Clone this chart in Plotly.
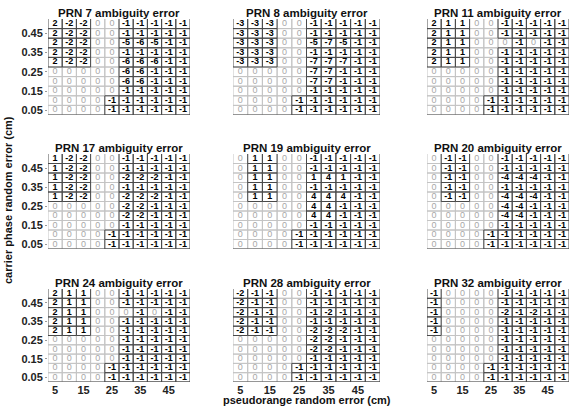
import plotly.graph_objects as go

# pseudorange random error (cm) columns, carrier phase random error rows (top -> bottom)
pr_err = [5, 10, 15, 20, 25, 30, 35, 40, 45, 50]
cp_err = [0.50, 0.45, 0.40, 0.35, 0.30, 0.25, 0.20, 0.15, 0.10, 0.05]
x_ticks = [5, 15, 25, 35, 45]
y_ticks = [0.05, 0.15, 0.25, 0.35, 0.45]

prn_names = ["PRN 7", "PRN 8", "PRN 11", "PRN 17", "PRN 19", "PRN 20", "PRN 24", "PRN 28", "PRN 32"]

prn7 = [
    [2, -2, -2, 0, 0, -1, -1, -1, -1, -1],
    [2, -2, -2, 0, 0, -1, -1, -1, -1, -1],
    [2, -2, -2, 0, 0, -5, -6, -5, -1, -1],
    [2, -2, -2, 0, 0, -1, -1, -1, -1, -1],
    [2, -2, -2, 0, 0, -6, -6, -6, -1, -1],
    [0, 0, 0, 0, 0, -6, -6, -1, -1, -1],
    [0, 0, 0, 0, 0, -6, -6, -1, -1, -1],
    [0, 0, 0, 0, 0, -1, -1, -1, -1, -1],
    [0, 0, 0, 0, -1, -1, -1, -1, -1, -1],
    [0, 0, 0, 0, -1, -1, -1, -1, -1, -1],
]
prn8 = [
    [-3, -3, -3, 0, 0, -1, -1, -1, -1, -1],
    [-3, -3, -3, 0, 0, -1, -1, -1, -1, -1],
    [-3, -3, -3, 0, 0, -5, -7, -5, -1, -1],
    [-3, -3, -3, 0, 0, -1, -1, -1, -1, -1],
    [-3, -3, -3, 0, 0, -7, -7, -7, -1, -1],
    [0, 0, 0, 0, 0, -7, -7, -1, -1, -1],
    [0, 0, 0, 0, 0, -7, -7, -1, -1, -1],
    [0, 0, 0, 0, 0, -1, -1, -1, -1, -1],
    [0, 0, 0, 0, -1, -1, -1, -1, -1, -1],
    [0, 0, 0, 0, -1, -1, -1, -1, -1, -1],
]
prn11 = [
    [2, 1, 1, 0, 0, -1, -1, -1, -1, -1],
    [2, 1, 1, 0, 0, -1, -1, -1, -1, -1],
    [2, 1, 1, 0, 0, 0, -1, 0, -1, -1],
    [2, 1, 1, 0, 0, -1, -1, -1, -1, -1],
    [2, 1, 1, 0, 0, -1, -1, -1, -1, -1],
    [0, 0, 0, 0, 0, -1, -1, -1, -1, -1],
    [0, 0, 0, 0, 0, -1, -1, -1, -1, -1],
    [0, 0, 0, 0, 0, -1, -1, -1, -1, -1],
    [0, 0, 0, 0, -1, -1, -1, -1, -1, -1],
    [0, 0, 0, 0, -1, -1, -1, -1, -1, -1],
]
prn17 = [
    [1, -2, -2, 0, 0, -1, -1, -1, -1, -1],
    [1, -2, -2, 0, 0, -1, -1, -1, -1, -1],
    [1, -2, -2, 0, 0, -2, -2, -2, -1, -1],
    [1, -2, -2, 0, 0, -1, -1, -1, -1, -1],
    [1, -2, -2, 0, 0, -2, -2, -2, -1, -1],
    [0, 0, 0, 0, 0, -2, -2, -1, -1, -1],
    [0, 0, 0, 0, 0, -2, -2, -1, -1, -1],
    [0, 0, 0, 0, 0, -1, -1, -1, -1, -1],
    [0, 0, 0, 0, -1, -1, -1, -1, -1, -1],
    [0, 0, 0, 0, -1, -1, -1, -1, -1, -1],
]
prn19 = [
    [0, 1, 1, 0, 0, -1, -1, -1, -1, -1],
    [0, 1, 1, 0, 0, -1, -1, -1, -1, -1],
    [0, 1, 1, 0, 0, 1, 4, 1, -1, -1],
    [0, 1, 1, 0, 0, -1, -1, -1, -1, -1],
    [0, 1, 1, 0, 0, 4, 4, 4, -1, -1],
    [0, 0, 0, 0, 0, 4, 4, -1, -1, -1],
    [0, 0, 0, 0, 0, 4, 4, -1, -1, -1],
    [0, 0, 0, 0, 0, -1, -1, -1, -1, -1],
    [0, 0, 0, 0, -1, -1, -1, -1, -1, -1],
    [0, 0, 0, 0, -1, -1, -1, -1, -1, -1],
]
prn20 = [
    [0, -1, -1, 0, 0, -1, -1, -1, -1, -1],
    [0, -1, -1, 0, 0, -1, -1, -1, -1, -1],
    [0, -1, -1, 0, 0, -4, -4, -4, -1, -1],
    [0, -1, -1, 0, 0, -1, -1, -1, -1, -1],
    [0, -1, -1, 0, 0, -4, -4, -4, -1, -1],
    [0, 0, 0, 0, 0, -4, -4, -1, -1, -1],
    [0, 0, 0, 0, 0, -4, -4, -1, -1, -1],
    [0, 0, 0, 0, 0, -1, -1, -1, -1, -1],
    [0, 0, 0, 0, -1, -1, -1, -1, -1, -1],
    [0, 0, 0, 0, -1, -1, -1, -1, -1, -1],
]
prn24 = [
    [2, 1, 1, 0, 0, -1, -1, -1, -1, -1],
    [2, 1, 1, 0, 0, -1, -1, -1, -1, -1],
    [2, 1, 1, 0, 0, 0, -1, 0, -1, -1],
    [2, 1, 1, 0, 0, -1, -1, -1, -1, -1],
    [2, 1, 1, 0, 0, -1, -1, -1, -1, -1],
    [0, 0, 0, 0, 0, -1, -1, -1, -1, -1],
    [0, 0, 0, 0, 0, -1, -1, -1, -1, -1],
    [0, 0, 0, 0, 0, -1, -1, -1, -1, -1],
    [0, 0, 0, 0, -1, -1, -1, -1, -1, -1],
    [0, 0, 0, 0, -1, -1, -1, -1, -1, -1],
]
prn28 = [
    [-2, -1, -1, 0, 0, -1, -1, -1, -1, -1],
    [-2, -1, -1, 0, 0, -1, -1, -1, -1, -1],
    [-2, -1, -1, 0, 0, -1, -2, -1, -1, -1],
    [-2, -1, -1, 0, 0, -1, -1, -1, -1, -1],
    [-2, -1, -1, 0, 0, -2, -2, -2, -1, -1],
    [0, 0, 0, 0, 0, -2, -2, -1, -1, -1],
    [0, 0, 0, 0, 0, -2, -2, -1, -1, -1],
    [0, 0, 0, 0, 0, -1, -1, -1, -1, -1],
    [0, 0, 0, 0, -1, -1, -1, -1, -1, -1],
    [0, 0, 0, 0, -1, -1, -1, -1, -1, -1],
]
prn32 = [
    [-1, 0, 0, 0, 0, -1, -1, -1, -1, -1],
    [-1, 0, 0, 0, 0, -1, -1, -1, -1, -1],
    [-1, 0, 0, 0, 0, -2, -1, -2, -1, -1],
    [-1, 0, 0, 0, 0, -1, -1, -1, -1, -1],
    [-1, 0, 0, 0, 0, -1, -1, -1, -1, -1],
    [0, 0, 0, 0, 0, -1, -1, -1, -1, -1],
    [0, 0, 0, 0, 0, -1, -1, -1, -1, -1],
    [0, 0, 0, 0, 0, -1, -1, -1, -1, -1],
    [0, 0, 0, 0, -1, -1, -1, -1, -1, -1],
    [0, 0, 0, 0, -1, -1, -1, -1, -1, -1],
]
grids = [prn7, prn8, prn11, prn17, prn19, prn20, prn24, prn28, prn32]

W, H = 571, 407
col_px = [(48, 190), (233, 380), (427, 569)]
row_px = [(19, 115), (154, 249), (289, 382)]

FONT = "Liberation Sans, Arial, sans-serif"
dx = 2.5
dy = 0.025

fig = go.Figure()
layout = dict(
    width=W, height=H, margin=dict(l=0, r=0, t=0, b=0),
    paper_bgcolor="white", plot_bgcolor="white", showlegend=False,
    font=dict(family=FONT, color="black"),
)
annotations = []

for k, (name, grid) in enumerate(zip(prn_names, grids)):
    r, c = divmod(k, 3)
    ax = "" if k == 0 else str(k + 1)
    xa, ya = "x" + ax, "y" + ax
    x0p, x1p = col_px[c]
    y0p, y1p = row_px[r]
    layout["xaxis" + ax] = dict(
        domain=[x0p / W, x1p / W], range=[pr_err[0] - dx, pr_err[-1] + dx],
        tickvals=x_ticks, showticklabels=(r == 2), ticks="", showgrid=False,
        zeroline=False, showline=False, fixedrange=True, anchor=ya,
        tickfont=dict(size=11, family=FONT, color="#222", weight="bold"),
    )
    layout["yaxis" + ax] = dict(
        domain=[1 - y1p / H, 1 - y0p / H], range=[cp_err[-1] - dy, cp_err[0] + dy],
        tickvals=y_ticks, ticktext=["%.2f" % v for v in y_ticks],
        showticklabels=(c == 0), ticks="outside" if c == 0 else "", ticklen=2,
        tickcolor="#999", showgrid=False, zeroline=False, showline=False,
        fixedrange=True, anchor=xa,
        tickfont=dict(size=11, family=FONT, color="#222", weight="bold"),
    )

    # cell borders: light for zero cells, dark for nonzero cells
    for want_zero, color in ((True, "#c4c4c4"), (False, "#4a4a4a")):
        lx, ly = [], []
        for i, yv in enumerate(cp_err):
            for j, xv in enumerate(pr_err):
                v = grid[i][j]
                if (v == 0) != want_zero:
                    continue
                lx += [xv - dx, xv - dx, None, xv + dx, xv + dx, None,
                       xv - dx, xv + dx, None]
                ly += [yv - dy, yv + dy, None, yv - dy, yv + dy, None,
                       yv - dy, yv - dy, None]
                if i > 0:
                    lx += [xv - dx, xv + dx, None]
                    ly += [yv + dy, yv + dy, None]
        fig.add_trace(go.Scatter(x=lx, y=ly, mode="lines", xaxis=xa, yaxis=ya,
                                 line=dict(color=color, width=1), hoverinfo="skip"))

    # bottom border of the table
    fig.add_trace(go.Scatter(x=[pr_err[0] - dx, pr_err[-1] + dx],
                             y=[cp_err[-1] - dy, cp_err[-1] - dy], mode="lines",
                             xaxis=xa, yaxis=ya, line=dict(color="#4a4a4a", width=1),
                             hoverinfo="skip"))

    zx, zy, zt, nx, ny, nt = [], [], [], [], [], []
    for i, yv in enumerate(cp_err):
        for j, xv in enumerate(pr_err):
            v = grid[i][j]
            if v == 0:
                zx.append(xv); zy.append(yv); zt.append(str(v))
            else:
                nx.append(xv); ny.append(yv); nt.append(str(v))
    fig.add_trace(go.Scatter(x=zx, y=zy, text=zt, mode="text", xaxis=xa, yaxis=ya,
                             textfont=dict(size=9, family=FONT, color="#a8a8a8"),
                             hoverinfo="skip"))
    fig.add_trace(go.Scatter(x=nx, y=ny, text=nt, mode="text", xaxis=xa, yaxis=ya,
                             textfont=dict(size=9, family=FONT, color="black", weight="bold"),
                             hoverinfo="skip"))

    annotations.append(dict(
        text=f"<b>{name} ambiguity error</b>", xref="paper", yref="paper",
        x=(x0p + x1p) / 2 / W, y=1 - y0p / H, xanchor="center", yanchor="bottom",
        yshift=-2, showarrow=False, font=dict(size=11.5, family=FONT, color="#111"),
    ))

annotations.append(dict(
    text="<b>carrier phase random error (cm)</b>", xref="paper", yref="paper",
    x=8 / W, y=1 - 200 / H, xanchor="center", yanchor="middle", textangle=-90,
    showarrow=False, font=dict(size=11, family=FONT, color="#111"),
))
annotations.append(dict(
    text="<b>pseudorange random error (cm)</b>", xref="paper", yref="paper",
    x=(233 + 380) / 2 / W, y=1 - 400 / H, xanchor="center", yanchor="middle",
    showarrow=False, font=dict(size=11, family=FONT, color="#111"),
))
layout["annotations"] = annotations
fig.update_layout(**layout)

fig.write_html(
    "out.html",
    config={"displayModeBar": False},
    post_script="document.body.style.margin='0';document.body.style.overflow='hidden';",
)
